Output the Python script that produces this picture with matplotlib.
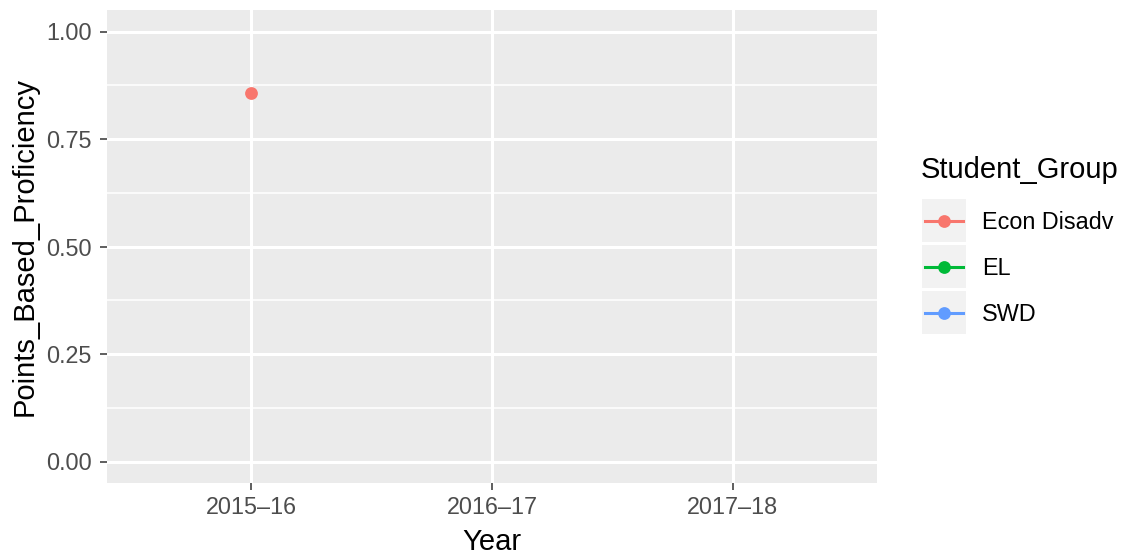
import matplotlib
matplotlib.use("Agg")
import matplotlib.pyplot as plt
from matplotlib.patches import Rectangle
from matplotlib.lines import Line2D

years = ["2015–16", "2016–17", "2017–18"]
groups = ["Econ Disadv", "EL", "SWD"]
colors = ["#F8766D", "#00BA38", "#619CFF"]
# values per group per year (None = missing)
econ_vals = [0.858, None, None]
el_vals = [None, None, None]
swd_vals = [None, None, None]
series = [econ_vals, el_vals, swd_vals]
yticks = [0.0, 0.25, 0.5, 0.75, 1.0]
ytick_labels = ["0.00", "0.25", "0.50", "0.75", "1.00"]

W, H = 1125, 557
plt.rcParams['font.family'] = ['Liberation Sans', 'DejaVu Sans']
fig = plt.figure(figsize=(W / 100, H / 100), dpi=100)
fig.patch.set_facecolor("white")

L, R, T, B = 107, 877, 10, 483
ax = fig.add_axes([L / W, (H - B) / H, (R - L) / W, (B - T) / H])
ax.set_facecolor("#EBEBEB")
for s in ax.spines.values():
    s.set_visible(False)

ax.set_xlim(0.4, 3.6)
ax.set_ylim(-0.05, 1.05)
ax.set_yticks(yticks)
ax.set_yticklabels(ytick_labels)
ax.set_yticks([0.125, 0.375, 0.625, 0.875], minor=True)
ax.set_xticks([1, 2, 3])
ax.set_xticklabels(years)
ax.grid(which="major", color="white", linewidth=2.2)
ax.grid(which="minor", axis="y", color="white", linewidth=1.1)
ax.set_axisbelow(True)
ax.tick_params(which="major", length=5, width=1.1, color="#333333",
               labelcolor="#4D4D4D", labelsize=16.8, pad=4)
ax.tick_params(axis="y", which="major", pad=6)
ax.tick_params(which="minor", length=0)

xs = [1, 2, 3]
for vals, c in zip(series, colors):
    px = [x for x, v in zip(xs, vals) if v is not None]
    py = [v for v in vals if v is not None]
    if px:
        ax.plot(px, py, color=c, linewidth=2.2, marker="o", markersize=9.2,
                markeredgewidth=0, zorder=3)

ax.set_xlabel("Year", fontsize=21, color="black", va="baseline")
ax.xaxis.set_label_coords(0.5, (B - 550) / (B - T))
ax.set_ylabel("Points_Based_Proficiency", fontsize=21, color="black", va="center")
ax.yaxis.set_label_coords((25 - L) / (R - L), 0.5)

# legend (manual, pixel coordinates)
def fx(x):
    return x / W

def fy(y):
    return 1 - y / H

fig.text(fx(921), fy(178), "Student_Group", fontsize=21, color="black",
         ha="left", va="baseline")
key_top = 199
key_h = 43
gap = 3
for i, (g, c) in enumerate(zip(groups, colors)):
    top = key_top + i * (key_h + gap)
    fig.add_artist(Rectangle((fx(922), fy(top + key_h)), 44 / W, key_h / H,
                             transform=fig.transFigure, facecolor="#F2F2F2",
                             edgecolor="none"))
    cy_px = top + key_h / 2
    cy = fy(cy_px)
    fig.add_artist(Line2D([fx(925), fx(963)], [cy, cy], transform=fig.transFigure,
                          color=c, linewidth=2.2))
    fig.add_artist(Line2D([fx(944)], [cy], transform=fig.transFigure, color=c,
                          marker="o", markersize=9.2, markeredgewidth=0))
    fig.text(fx(982), fy(cy_px + 8.5), g, fontsize=16.8, color="black",
             ha="left", va="baseline")

fig.savefig("out.png", dpi=100, facecolor="white")
